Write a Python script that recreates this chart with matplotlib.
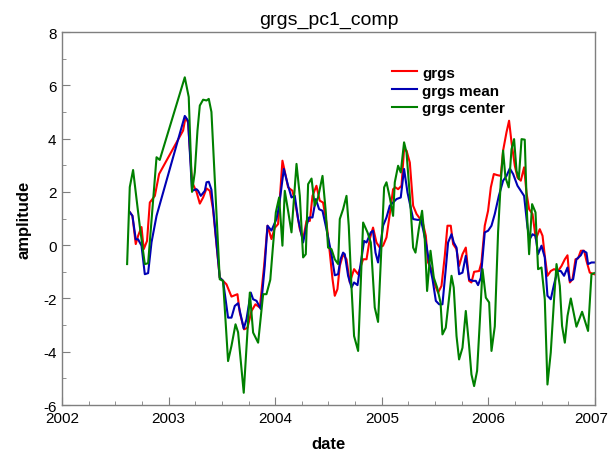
import matplotlib
matplotlib.use("Agg")
import matplotlib.pyplot as plt
from matplotlib.ticker import MultipleLocator, FuncFormatter
from matplotlib.transforms import ScaledTranslation

plt.rcParams['font.family'] = ['Liberation Sans', 'DejaVu Sans']

# --- grgs (red) ---
grgs_dates = [2002.636, 2002.661, 2002.692, 2002.714, 2002.746, 2002.767, 2002.798,
              2002.824, 2002.871, 2002.911, 2003.136, 2003.159, 2003.183, 2003.220,
              2003.262, 2003.293, 2003.324, 2003.356, 2003.387, 2003.417, 2003.480,
              2003.511, 2003.543, 2003.590, 2003.646, 2003.668, 2003.708, 2003.740,
              2003.778, 2003.815, 2003.856, 2003.896, 2003.928, 2003.965, 2003.996,
              2004.027, 2004.068, 2004.099, 2004.121, 2004.162, 2004.193, 2004.231,
              2004.262, 2004.294, 2004.325, 2004.350, 2004.387, 2004.418, 2004.449,
              2004.481, 2004.512, 2004.538, 2004.559, 2004.584, 2004.606, 2004.637,
              2004.669, 2004.700, 2004.740, 2004.778, 2004.825, 2004.857, 2004.887,
              2004.918, 2004.950, 2004.981, 2005.012, 2005.044, 2005.075, 2005.106,
              2005.128, 2005.153, 2005.185, 2005.209, 2005.232, 2005.263, 2005.294,
              2005.326, 2005.357, 2005.387, 2005.413, 2005.434, 2005.466, 2005.497,
              2005.528, 2005.560, 2005.591, 2005.616, 2005.647, 2005.669, 2005.701,
              2005.725, 2005.757, 2005.788, 2005.819, 2005.841, 2005.866, 2005.913,
              2005.935, 2005.966, 2005.997, 2006.023, 2006.051, 2006.082, 2006.116,
              2006.138, 2006.170, 2006.194, 2006.217, 2006.248, 2006.273, 2006.304,
              2006.335, 2006.357, 2006.382, 2006.414, 2006.445, 2006.482, 2006.508,
              2006.529, 2006.554, 2006.585, 2006.616, 2006.654, 2006.686, 2006.717,
              2006.742, 2006.764, 2006.789, 2006.817, 2006.841, 2006.867, 2006.898,
              2006.920, 2006.951, 2006.992]
grgs_vals = [1.24, 1.10, 0.04, 0.35, 0.68, -0.15, 0.16,
             1.60, 1.85, 2.67, 4.30, 4.80, 4.60, 2.37,
             2.00, 1.56, 1.79, 2.13, 2.04, 1.35, -1.22,
             -1.34, -1.47, -1.93, -1.84, -2.53, -3.16, -3.10,
             -2.47, -2.22, -2.34, -0.78, 0.73, 0.23, 0.65,
             0.79, 3.17, 2.60, 2.17, 2.04, 1.48, 0.60,
             0.23, 0.91, 0.91, 1.85, 2.23, 1.67, 1.60,
             0.85, -0.27, -1.28, -1.90, -1.65, -0.78, -0.34,
             -0.53, -1.40, -0.90, -1.09, -0.53, -0.53, 0.23,
             0.66, 0.10, -0.09, -0.02, 0.29, 1.17, 2.10,
             2.17, 2.10, 2.23, 3.60, 3.55, 3.10, 1.48,
             1.17, 1.00, 0.80, 0.35, -0.65, -0.90, -1.47,
             -1.78, -1.53, -0.40, 0.73, 0.73, 0.04, -0.15,
             -0.78, -0.34, -0.09, -1.34, -1.40, -1.00, -0.97,
             -0.65, 0.73, 1.29, 2.17, 2.67, 2.63, 2.60,
             3.55, 4.24, 4.67, 3.86, 2.98, 2.54, 2.42,
             2.92, 1.98, 1.35, 1.17, 0.23, 0.60, 0.35,
             -0.40, -1.15, -0.97, -0.90, -0.97, -0.78, -0.53,
             -0.38, -1.40, -1.28, -0.53, -0.50, -0.21, -0.21,
             -0.59, -1.03, -1.09]

# --- grgs mean (blue) ---
mean_dates = [2002.636, 2002.661, 2002.692, 2002.714, 2002.746, 2002.777, 2002.808,
              2002.840, 2002.887, 2003.152, 2003.183, 2003.220, 2003.262, 2003.277,
              2003.302, 2003.340, 2003.356, 2003.377, 2003.402, 2003.480, 2003.511,
              2003.558, 2003.590, 2003.621, 2003.652, 2003.705, 2003.731, 2003.771,
              2003.793, 2003.825, 2003.865, 2003.902, 2003.928, 2003.965, 2004.012,
              2004.037, 2004.081, 2004.121, 2004.153, 2004.184, 2004.215, 2004.262,
              2004.294, 2004.318, 2004.350, 2004.381, 2004.412, 2004.444, 2004.481,
              2004.528, 2004.559, 2004.590, 2004.613, 2004.637, 2004.653, 2004.684,
              2004.716, 2004.740, 2004.772, 2004.834, 2004.857, 2004.897, 2004.918,
              2004.941, 2004.965, 2005.012, 2005.044, 2005.075, 2005.106, 2005.138,
              2005.178, 2005.209, 2005.241, 2005.294, 2005.335, 2005.366, 2005.387,
              2005.419, 2005.444, 2005.476, 2005.507, 2005.538, 2005.569, 2005.600,
              2005.622, 2005.654, 2005.675, 2005.701, 2005.725, 2005.757, 2005.788,
              2005.819, 2005.851, 2005.882, 2005.903, 2005.929, 2005.966, 2005.997,
              2006.029, 2006.060, 2006.098, 2006.138, 2006.170, 2006.201, 2006.232,
              2006.273, 2006.304, 2006.335, 2006.367, 2006.388, 2006.414, 2006.442,
              2006.466, 2006.498, 2006.529, 2006.554, 2006.585, 2006.616, 2006.648,
              2006.679, 2006.710, 2006.742, 2006.764, 2006.795, 2006.826, 2006.867,
              2006.888, 2006.920, 2006.935, 2006.967, 2006.992]
mean_vals = [1.24, 1.10, 0.22, 0.22, -0.02, -1.09, -1.05,
             0.11, 1.10, 4.85, 4.67, 2.04, 2.10, 2.04,
             1.85, 2.04, 2.36, 2.38, 2.08, -1.22, -1.34,
             -2.72, -2.72, -2.28, -2.18, -3.13, -2.78, -1.78,
             -2.03, -2.09, -2.40, -0.78, 0.73, 0.55, 0.98,
             1.48, 2.86, 2.23, 1.79, 1.85, 0.98, 0.10,
             0.73, 1.04, 1.04, 1.73, 1.35, 1.29, 0.60,
             -0.34, -1.13, -1.09, -0.53, -0.28, -0.34, -1.15,
             -1.59, -1.40, -1.50, 0.16, 0.10, 0.48, 0.54,
             -0.28, -0.65, 0.73, 1.04, 1.48, 1.60, 1.73,
             1.79, 2.86, 1.98, 0.98, 0.95, 0.95, 0.60,
             -0.02, -0.65, -1.28, -2.09, -2.22, -2.22, -0.90,
             0.10, 0.41, 0.10, -0.09, -1.09, -1.03, -0.40,
             -1.28, -1.34, -1.34, -1.50, -1.22, 0.48, 0.54,
             0.73, 1.17, 1.85, 2.42, 2.60, 2.88, 2.67,
             2.23, 2.04, 1.85, 0.66, 0.23, 0.41, 0.35,
             -0.34, -0.02, -0.46, -1.90, -2.03, -1.47, -0.97,
             -0.97, -1.15, -0.84, -1.34, -1.28, -0.53, -0.38,
             -0.21, -0.28, -0.71, -0.65, -0.65]

# --- grgs center (green) ---
center_dates = [2002.611, 2002.636, 2002.667, 2002.730, 2002.777, 2002.808, 2002.887,
                2002.917, 2003.152, 2003.189, 2003.220, 2003.246, 2003.271, 2003.293,
                2003.324, 2003.356, 2003.377, 2003.402, 2003.480, 2003.511, 2003.558,
                2003.590, 2003.628, 2003.652, 2003.705, 2003.762, 2003.793, 2003.840,
                2003.887, 2003.918, 2003.954, 2003.977, 2004.006, 2004.037, 2004.068,
                2004.090, 2004.121, 2004.153, 2004.200, 2004.231, 2004.262, 2004.287,
                2004.309, 2004.341, 2004.371, 2004.402, 2004.444, 2004.475, 2004.496,
                2004.528, 2004.559, 2004.590, 2004.606, 2004.637, 2004.669, 2004.690,
                2004.716, 2004.740, 2004.778, 2004.825, 2004.866, 2004.897, 2004.934,
                2004.965, 2005.022, 2005.044, 2005.075, 2005.106, 2005.122, 2005.153,
                2005.178, 2005.209, 2005.232, 2005.263, 2005.294, 2005.316, 2005.347,
                2005.378, 2005.403, 2005.425, 2005.457, 2005.488, 2005.519, 2005.551,
                2005.569, 2005.600, 2005.654, 2005.675, 2005.701, 2005.725, 2005.757,
                2005.788, 2005.819, 2005.841, 2005.866, 2005.894, 2005.919, 2005.945,
                2005.976, 2006.007, 2006.029, 2006.060, 2006.091, 2006.116, 2006.138,
                2006.160, 2006.191, 2006.217, 2006.241, 2006.264, 2006.285, 2006.311,
                2006.341, 2006.363, 2006.382, 2006.410, 2006.442, 2006.466, 2006.498,
                2006.529, 2006.554, 2006.585, 2006.616, 2006.639, 2006.670, 2006.691,
                2006.717, 2006.742, 2006.773, 2006.826, 2006.879, 2006.935, 2006.967,
                2006.992]
center_vals = [-0.71, 2.18, 2.82, 0.71, -0.71, -0.68, 3.30,
               3.20, 6.30, 5.56, 2.00, 2.74, 4.30, 5.24,
               5.46, 5.43, 5.49, 5.00, -1.28, -1.34, -4.35,
               -3.78, -2.97, -3.27, -5.54, -1.78, -3.28, -3.66,
               -1.84, -1.84, -1.30, -0.15, 1.23, 1.79, -0.02,
               2.04, 1.29, 0.48, 3.05, 1.85, -0.46, -0.34,
               2.29, 2.50, 1.48, 1.79, 2.60, 1.23, -0.09,
               -0.15, -0.53, -0.71, 0.98, 1.35, 1.85, 0.73,
               -1.59, -3.41, -3.97, 0.85, 0.48, 0.10, -2.34,
               -2.88, 2.17, 2.36, 1.79, 1.10, 2.36, 2.98,
               2.73, 3.86, 3.48, 1.85, -0.09, -0.28, 0.60,
               1.29, 0.23, -1.72, -0.21, -1.22, -1.59, -2.15,
               -3.35, -3.10, -1.15, -1.59, -3.41, -4.29, -3.85,
               -2.47, -3.78, -4.85, -5.29, -4.72, -2.91, -0.90,
               -1.97, -2.15, -3.97, -3.05, 0.50, 2.36, 3.55,
               2.54, 2.17, 3.60, 3.98, 2.79, 2.48, 3.98,
               3.96, 1.10, -0.34, 1.54, 1.23, -0.90, -0.84,
               -2.03, -5.23, -4.03, -2.03, -0.71, -1.53, -3.03,
               -3.66, -2.66, -2.00, -3.06, -2.50, -3.22, -1.09,
               -1.05]

title = "grgs_pc1_comp"
x_label = "date"
y_label = "amplitude"
series_labels = ["grgs", "grgs mean", "grgs center"]
series_colors = ["#ff0000", "#0000b4", "#008000"]
year_ticks = [2002, 2003, 2004, 2005, 2006, 2007]

fig = plt.figure(figsize=(6.10, 4.56), dpi=100)
ax = fig.add_axes([0.1016, 0.1096, 0.8738, 0.818])

ax.plot(grgs_dates, grgs_vals, color=series_colors[0], lw=1.5, label=series_labels[0])
ax.plot(mean_dates, mean_vals, color=series_colors[1], lw=1.5, label=series_labels[1])
ax.plot(center_dates, center_vals, color=series_colors[2], lw=1.5, label=series_labels[2])

ax.set_xlim(2002, 2007)
ax.set_ylim(-6, 8)
ax.set_xticks(year_ticks)
ax.set_xticklabels([str(y) for y in year_ticks])
ax.xaxis.set_minor_locator(MultipleLocator(0.25))
ax.yaxis.set_major_locator(MultipleLocator(2))
ax.yaxis.set_minor_locator(MultipleLocator(1))
ax.yaxis.set_major_formatter(FuncFormatter(lambda v, p: f"{int(round(v))}"))

for s in ax.spines.values():
    s.set_color("#7f7f7f")
    s.set_linewidth(1.0)
ax.tick_params(which="both", direction="in", color="#7f7f7f", labelsize=11,
               top=False, right=False)
ax.tick_params(which="major", length=6, pad=4)
ax.tick_params(which="minor", length=3)

# nudge the right-most year label so it stays inside the canvas
last_label = ax.xaxis.get_major_ticks()[-1].label1
last_label.set_transform(last_label.get_transform()
                         + ScaledTranslation(-4 / 100, 0, fig.dpi_scale_trans))

ax.set_title(title, fontsize=14, pad=6)
ax.set_xlabel(x_label, fontsize=12, fontweight="bold", labelpad=8)
ax.set_ylabel(y_label, fontsize=12, fontweight="bold", labelpad=8)

ax.legend(loc="upper left", bbox_to_anchor=(0.605, 0.93), frameon=False,
          prop={"size": 11, "weight": "bold"}, handlelength=1.6,
          handletextpad=0.35, labelspacing=0.25, borderpad=0)

fig.savefig("out.png", dpi=100)
